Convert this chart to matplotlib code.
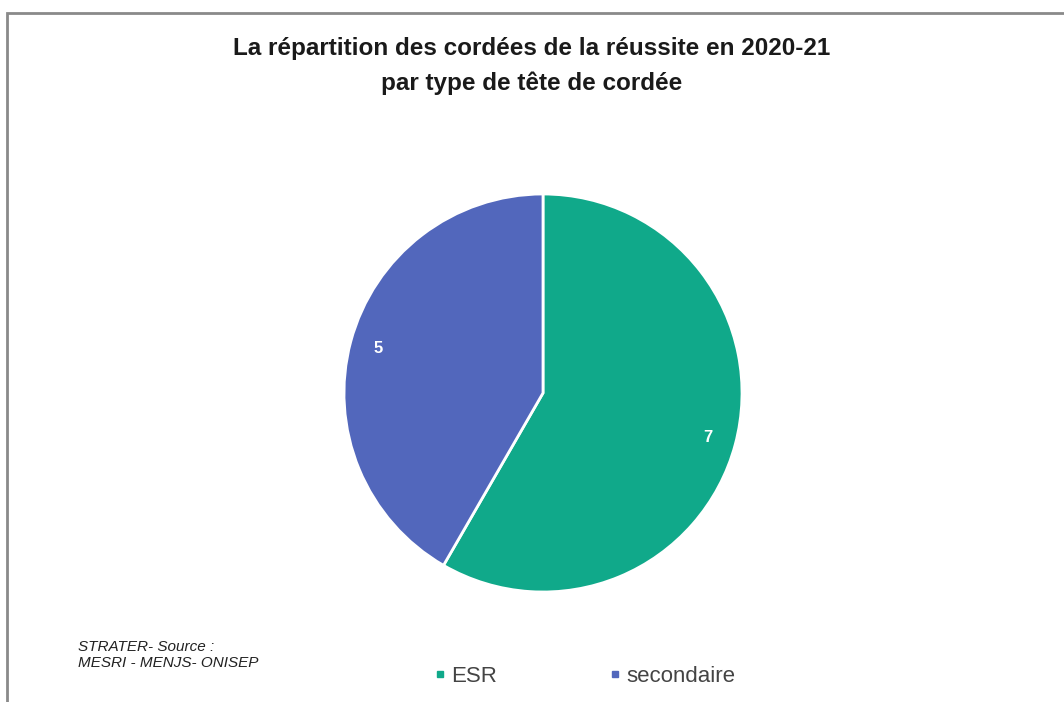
import matplotlib.pyplot as plt
from matplotlib.lines import Line2D
from matplotlib.patches import Rectangle

labels = ["ESR", "secondaire"]
values = [7, 5]
colors = ["#10a98a", "#5267bc"]

title = "La répartition des cordées de la réussite en 2020-21\npar type de tête de cordée"
source = "STRATER- Source :\nMESRI - MENJS- ONISEP"

plt.rcParams['font.family'] = ['Liberation Sans', 'DejaVu Sans']

W, H = 1064, 702
fig = plt.figure(figsize=(W / 100, H / 100), dpi=100, facecolor="white")

# frame around the chart (top and left edges visible in the reference)
fig.add_artist(Rectangle((7 / W, -0.01), 1.05, (H - 13) / H + 0.01,
                         transform=fig.transFigure, fill=False,
                         edgecolor="#8a8a8a", linewidth=2))

cx, cy, r = 543, 393, 201
ax = fig.add_axes([(cx - r) / W, (H - cy - r) / H, 2 * r / W, 2 * r / H])
wedges, texts, autotexts = ax.pie(
    values, colors=colors, startangle=90, counterclock=False,
    autopct=lambda p: f"{round(p * sum(values) / 100):d}",
    pctdistance=0.86, radius=1,
    wedgeprops=dict(edgecolor="white", linewidth=2),
    textprops=dict(color="white", fontsize=12, fontweight="bold"),
)
ax.set_xlim(-1.01, 1.01)
ax.set_ylim(-1.01, 1.01)
ax.set_aspect("equal")

fig.text(0.5, 1 - 66 / H, title, ha="center", va="center",
         fontsize=17.5, fontweight="bold", color="#1a1a1a", linespacing=1.6)

fig.text(78 / W, 1 - 655 / H, source, ha="left", va="center",
         fontsize=11, style="italic", color="#222222", linespacing=1.25)

handles = [Line2D([], [], marker="s", linestyle="none", markersize=5,
                  markerfacecolor=c, markeredgecolor=c) for c in colors]
fig.legend(handles, labels, loc="center", bbox_to_anchor=(582 / W, 1 - 676 / H),
           ncol=2, frameon=False, fontsize=16, handletextpad=0.0,
           handlelength=1.0, columnspacing=4.8, labelcolor="#444444")

fig.savefig("out.png", dpi=100, facecolor="white")
